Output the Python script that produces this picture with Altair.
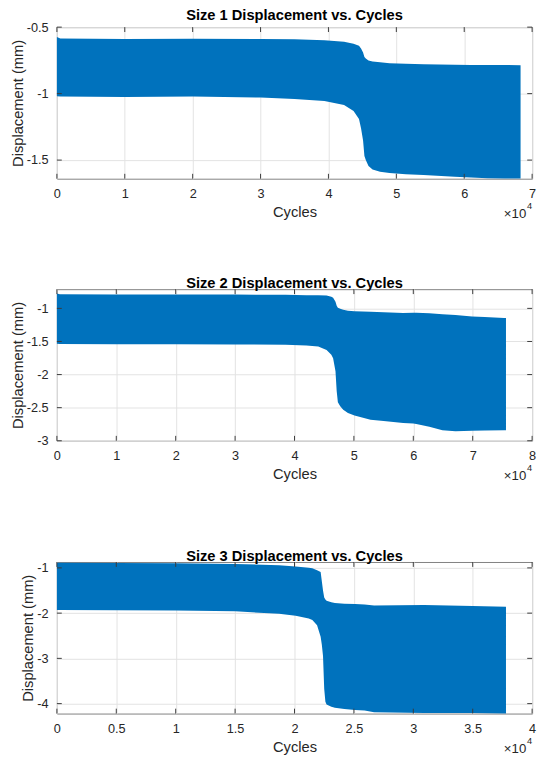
import altair as alt
import pandas as pd

# ---------------- data ----------------
# Panel 1: Size 1
cyc1 = [0, 500, 10000, 20000, 30000, 35000, 39400, 42300, 43700, 44500, 44800,
        45100, 45300, 45500, 45900, 46500, 47600, 49000, 51400, 54000, 58600,
        61000, 63400, 66000, 68300]
up1 = [-0.575, -0.585, -0.590, -0.588, -0.590, -0.592, -0.598, -0.610, -0.625,
       -0.640, -0.660, -0.690, -0.725, -0.735, -0.750, -0.758, -0.765, -0.772,
       -0.776, -0.779, -0.783, -0.784, -0.784, -0.785, -0.786]
lo1 = [-1.020, -1.022, -1.025, -1.022, -1.030, -1.040, -1.056, -1.085, -1.130,
       -1.190, -1.260, -1.352, -1.470, -1.500, -1.545, -1.570, -1.588, -1.598,
       -1.606, -1.612, -1.626, -1.631, -1.636, -1.638, -1.638]

# Panel 2: Size 2
cyc2 = [0, 500, 10000, 20000, 30000, 38500, 42000, 44000, 45400, 46200, 46500,
        46900, 47100, 47300, 47700, 48200, 49000, 50100, 52800, 55000, 58300,
        60000, 60500, 62700, 64900, 67100, 69900, 72000, 75300, 75600]
up2 = [-0.775, -0.785, -0.790, -0.790, -0.792, -0.795, -0.800, -0.802, -0.805,
       -0.825, -0.840, -0.900, -0.960, -0.990, -1.005, -1.022, -1.035, -1.042,
       -1.052, -1.060, -1.071, -1.066, -1.064, -1.075, -1.090, -1.100, -1.121,
       -1.130, -1.145, -1.146]
lo2 = [-1.535, -1.537, -1.540, -1.540, -1.545, -1.548, -1.560, -1.575, -1.630,
       -1.700, -1.753, -1.950, -2.247, -2.420, -2.480, -2.533, -2.580, -2.617,
       -2.681, -2.700, -2.730, -2.740, -2.745, -2.790, -2.840, -2.855, -2.850,
       -2.845, -2.840, -2.840]

# Panel 3: Size 3
cyc3 = [0, 300, 5000, 10000, 15000, 18700, 20100, 21200, 21500, 21900, 22200,
        22300, 22400, 22500, 22600, 22700, 23100, 23400, 24200, 25100, 25900,
        26700, 30900, 35000, 37800]
up3 = [-0.885, -0.887, -0.890, -0.900, -0.915, -0.940, -0.970, -0.995, -1.006,
       -1.050, -1.093, -1.294, -1.500, -1.654, -1.700, -1.726, -1.760, -1.778,
       -1.790, -1.800, -1.810, -1.830, -1.820, -1.840, -1.860]
lo3 = [-1.930, -1.932, -1.935, -1.940, -1.960, -2.015, -2.058, -2.120, -2.150,
       -2.266, -2.520, -2.700, -2.950, -3.670, -3.960, -4.020, -4.070, -4.090,
       -4.117, -4.140, -4.153, -4.190, -4.210, -4.210, -4.218]

titles = ["Size 1 Displacement vs. Cycles",
          "Size 2 Displacement vs. Cycles",
          "Size 3 Displacement vs. Cycles"]
x_domains = [[0, 70000], [0, 80000], [0, 40000]]
y_domains = [[-1.64, -0.5], [-3.0, -0.71], [-4.22, -0.87]]
x_ticks = [[0, 10000, 20000, 30000, 40000, 50000, 60000, 70000],
           [0, 10000, 20000, 30000, 40000, 50000, 60000, 70000, 80000],
           [0, 5000, 10000, 15000, 20000, 25000, 30000, 35000, 40000]]
y_ticks = [[-1.5, -1.0, -0.5],
           [-3.0, -2.5, -2.0, -1.5, -1.0],
           [-4.0, -3.0, -2.0, -1.0]]

series = [(cyc1, up1, lo1), (cyc2, up2, lo2), (cyc3, up3, lo3)]

W, H = 486, 155
FONT = "Liberation Sans"
BLUE = "#0072BD"
TXT = "#262626"


def panel(i):
    cyc, up, lo = series[i]
    df = pd.DataFrame({"Cycles": cyc, "upper": up, "lower": lo})
    xs = alt.Scale(domain=x_domains[i], nice=False, zero=False)
    ys = alt.Scale(domain=y_domains[i], nice=False, zero=False)
    xax = alt.Axis(values=x_ticks[i], title="Cycles",
                   labelExpr="'' + datum.value / 10000",
                   labelPadding=9, titlePadding=5, labelFlush=False)
    yax = alt.Axis(values=y_ticks[i], title="Displacement (mm)",
                   labelExpr="'' + datum.value",
                   labelPadding=9, titlePadding=1)

    area = alt.Chart(df).mark_area(color=BLUE, opacity=1, interpolate="linear").encode(
        x=alt.X("Cycles:Q", scale=xs, axis=xax),
        y=alt.Y("upper:Q", scale=ys, axis=yax),
        y2="lower:Q",
    )

    # inward tick marks (MATLAB style), on all four sides
    xt = pd.DataFrame({"Cycles": x_ticks[i]})
    yt = pd.DataFrame({"upper": y_ticks[i]})
    tick_style = dict(color="#3a3a3a", strokeWidth=1)
    top_t = alt.Chart(xt).mark_rule(**tick_style).encode(
        x=alt.X("Cycles:Q", scale=xs, axis=xax), y=alt.value(0), y2=alt.value(5))
    bot_t = alt.Chart(xt).mark_rule(**tick_style).encode(
        x=alt.X("Cycles:Q", scale=xs, axis=xax), y=alt.value(H - 5), y2=alt.value(H))
    left_t = alt.Chart(yt).mark_rule(**tick_style).encode(
        y=alt.Y("upper:Q", scale=ys, axis=yax), x=alt.value(0), x2=alt.value(5))
    right_t = alt.Chart(yt).mark_rule(**tick_style).encode(
        y=alt.Y("upper:Q", scale=ys, axis=yax), x=alt.value(W - 5), x2=alt.value(W))

    one = pd.DataFrame({"a": [0]})
    exp_base = alt.Chart(one).mark_text(
        font=FONT, fontSize=13.5, color=TXT, align="right", baseline="alphabetic"
    ).encode(x=alt.value(W - 6), y=alt.value(H + 40), text=alt.value("\u00d710"))
    exp_pow = alt.Chart(one).mark_text(
        font=FONT, fontSize=9.5, color=TXT, align="right", baseline="alphabetic"
    ).encode(x=alt.value(W), y=alt.value(H + 31), text=alt.value("4"))

    return alt.layer(area, top_t, bot_t, left_t, right_t, exp_base, exp_pow).properties(
        width=W, height=H,
        title=alt.TitleParams(titles[i], font=FONT, fontSize=15, fontWeight="bold",
                              color="#000000", offset=-2, anchor="middle",
                              frame="group"),
    )


top_two = alt.vconcat(panel(0), panel(1), spacing=56)
chart = alt.vconcat(top_two, panel(2), spacing=67).properties(
    padding={"left": 2, "top": -9, "right": 0, "bottom": 0},
    background="white",
).configure_view(
    stroke="#808080", strokeWidth=1
).configure_axis(
    labelFont=FONT, labelFontSize=13, labelColor=TXT,
    titleFont=FONT, titleFontSize=15, titleFontWeight="normal", titleColor=TXT,
    grid=True, gridColor="#e2e2e2", gridWidth=1,
    domain=False, ticks=False,
)

chart.save("out.html", embed_options={"renderer": "svg", "actions": False})
